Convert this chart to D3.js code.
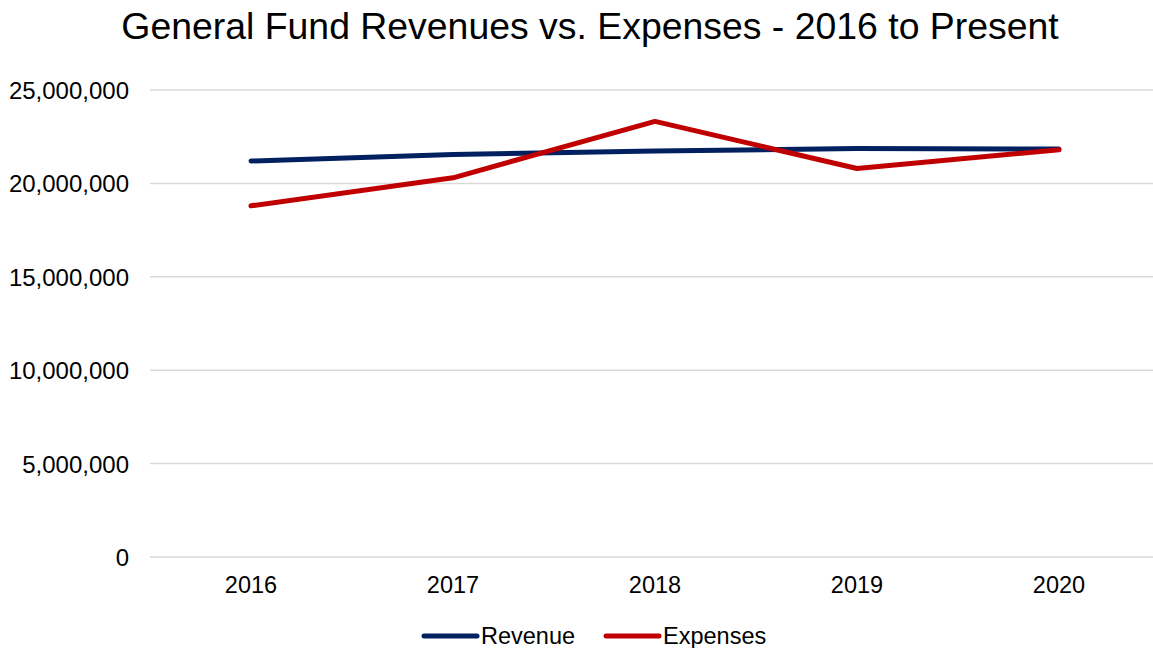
<!DOCTYPE html>
<html>
<head>
<meta charset="utf-8">
<script src="https://cdn.jsdelivr.net/npm/d3@7"></script>
<style>
  body { margin: 0; background: #fff; overflow: hidden; }
  svg { font-family: "Liberation Sans", Arial, sans-serif; display: block; }
</style>
</head>
<body>
<script>
'use strict';

// chart data
var years = ['2016', '2017', '2018', '2019', '2020'];
var revenue = [21200000, 21550000, 21730000, 21870000, 21840000];
var expenses = [18800000, 20300000, 23320000, 20800000, 21800000];
var yTicks = [0, 5000000, 10000000, 15000000, 20000000, 25000000];

var width = 1153, height = 648;
var margin = {top: 90, right: 0, bottom: 91, left: 150};

var svg = d3.select('body').append('svg')
    .attr('width', width)
    .attr('height', height);

// title
svg.append('text')
    .attr('x', 590)
    .attr('y', 39)
    .attr('text-anchor', 'middle')
    .style('font-size', '37.4px')
    .text('General Fund Revenues vs. Expenses - 2016 to Present');

var x = d3.scaleBand()
    .domain(years)
    .range([margin.left, 1160]);

var y = d3.scaleLinear()
    .domain([0, 25000000])
    .range([height - margin.bottom, margin.top]);

// gridlines
svg.append('g')
    .selectAll('line')
    .data(yTicks)
    .enter().append('line')
    .attr('x1', margin.left)
    .attr('x2', width - margin.right)
    .attr('y1', function(d) { return y(d); })
    .attr('y2', function(d) { return y(d); })
    .attr('stroke', '#d9d9d9')
    .attr('stroke-width', 1.5);

// y axis
var yAxis = svg.append('g')
    .attr('transform', 'translate(' + (margin.left - 21) + ',0)')
    .call(d3.axisLeft(y).tickValues(yTicks).tickSize(0).tickFormat(d3.format(',')));
yAxis.select('.domain').remove();
yAxis.selectAll('text')
    .style('font-size', '24px')
    .attr('fill', '#000')
    .attr('x', 0)
    .attr('dy', '0.35em');

// x axis
var xAxis = svg.append('g')
    .attr('transform', 'translate(0,' + (height - margin.bottom) + ')')
    .call(d3.axisBottom(x).tickSize(0));
xAxis.select('.domain').remove();
xAxis.selectAll('text')
    .style('font-size', '23.5px')
    .attr('fill', '#000')
    .attr('y', 36)
    .attr('dy', 0);

var line = d3.line()
    .x(function(d, i) { return x(years[i]) + x.bandwidth() / 2; })
    .y(function(d) { return y(d); });

var series = [
    {name: 'Revenue', values: revenue, color: '#002060'},
    {name: 'Expenses', values: expenses, color: '#c00000'}
];

svg.selectAll('.series')
    .data(series)
    .enter().append('path')
    .attr('class', 'series')
    .attr('d', function(d) { return line(d.values); })
    .attr('fill', 'none')
    .attr('stroke', function(d) { return d.color; })
    .attr('stroke-width', 5)
    .attr('stroke-linecap', 'round')
    .attr('stroke-linejoin', 'round');

// legend
var legendX = [424, 606];
var legend = svg.selectAll('.legend')
    .data(series)
    .enter().append('g')
    .attr('class', 'legend')
    .attr('transform', function(d, i) { return 'translate(' + legendX[i] + ',636)'; });

legend.append('line')
    .attr('x1', 0)
    .attr('x2', 53)
    .attr('stroke', function(d) { return d.color; })
    .attr('stroke-width', 5)
    .attr('stroke-linecap', 'round');

legend.append('text')
    .attr('x', 57)
    .attr('dy', '0.35em')
    .style('font-size', '23.5px')
    .text(function(d) { return d.name; });
</script>
</body>
</html>
